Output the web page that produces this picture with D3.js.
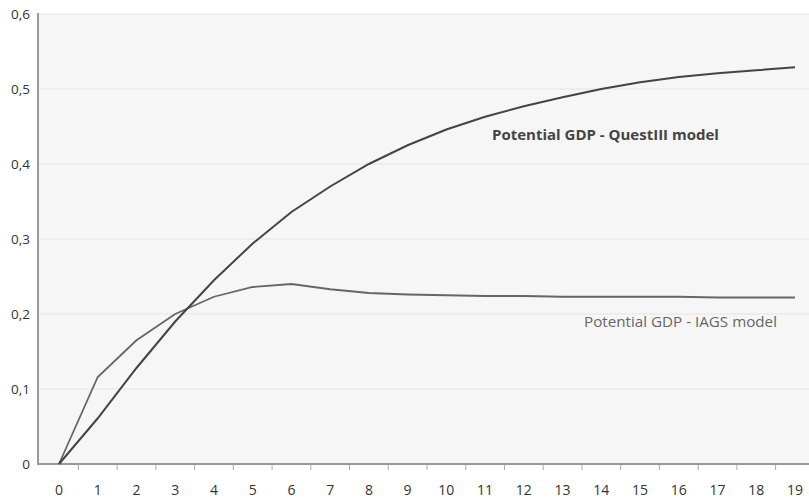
<!DOCTYPE html>
<html>
<head>
<meta charset="utf-8">
<script src="https://cdn.jsdelivr.net/npm/d3@7"></script>
<style>
  body { margin: 0; background: #fff; }
  text { font-family: "Open Sans", "Noto Sans", sans-serif; }
</style>
</head>
<body>
<svg id="chart" width="809" height="498"></svg>
<script>
// periods on the x axis
const periods = d3.range(0, 20);
// potential GDP, QuestIII model
const questValues = [0, 0.061, 0.128, 0.19, 0.245, 0.294, 0.336, 0.37, 0.4, 0.425,
                     0.446, 0.463, 0.477, 0.489, 0.5, 0.509, 0.516, 0.521, 0.525, 0.529];
// potential GDP, IAGS model
const iagsValues = [0, 0.116, 0.165, 0.2, 0.223, 0.236, 0.24, 0.233, 0.228, 0.226,
                    0.225, 0.224, 0.224, 0.223, 0.223, 0.223, 0.223, 0.222, 0.222, 0.222];
const yTicks = [0, 0.1, 0.2, 0.3, 0.4, 0.5, 0.6];

const svg = d3.select('#chart');
const plotLeft = 38, plotRight = 809, plotTop = 14, plotBottom = 464;

const x = d3.scalePoint().domain(periods).range([59, 795]);
const step = x.step();
const y = d3.scaleLinear().domain([0, 0.6]).range([plotBottom, plotTop]);

// plot background
svg.append('rect')
    .attr('x', plotLeft).attr('y', plotTop)
    .attr('width', plotRight - plotLeft).attr('height', plotBottom - plotTop)
    .attr('fill', '#f6f6f6');

// gridlines
svg.append('g')
    .selectAll('line')
    .data(yTicks.filter(d => d > 0))
    .join('line')
    .attr('x1', plotLeft).attr('x2', plotRight)
    .attr('y1', d => y(d)).attr('y2', d => y(d))
    .attr('stroke', '#e4e4e4').attr('stroke-width', 1);

// y labels
const fmt = d => d === 0 ? '0' : d3.format('.1f')(d).replace('.', ',');
svg.append('g')
    .selectAll('text')
    .data(yTicks)
    .join('text')
    .attr('x', 30).attr('y', d => y(d))
    .attr('dy', '0.35em')
    .attr('text-anchor', 'end')
    .attr('font-size', 13.5)
    .attr('fill', '#333')
    .text(fmt);

// x ticks between categories
svg.append('g')
    .selectAll('line')
    .data(periods.slice(0, 19))
    .join('line')
    .attr('x1', d => x(d) + step / 2).attr('x2', d => x(d) + step / 2)
    .attr('y1', plotBottom).attr('y2', plotBottom + 6)
    .attr('stroke', '#aaa').attr('stroke-width', 1);

// x labels
svg.append('g')
    .selectAll('text')
    .data(periods)
    .join('text')
    .attr('x', d => x(d)).attr('y', 495)
    .attr('text-anchor', 'middle')
    .attr('font-size', 14)
    .attr('fill', '#333')
    .text(d => d);

// axes lines
svg.append('line')
    .attr('x1', plotLeft).attr('x2', plotLeft)
    .attr('y1', plotTop - 1).attr('y2', plotBottom + 1)
    .attr('stroke', '#999').attr('stroke-width', 2);
svg.append('line')
    .attr('x1', plotLeft - 1).attr('x2', plotRight)
    .attr('y1', plotBottom).attr('y2', plotBottom)
    .attr('stroke', '#999').attr('stroke-width', 2);

const line = d3.line()
    .x((d, i) => x(periods[i]))
    .y(d => y(d));

svg.append('path')
    .datum(iagsValues)
    .attr('d', line)
    .attr('fill', 'none')
    .attr('stroke', '#666')
    .attr('stroke-width', 1.8);

svg.append('path')
    .datum(questValues)
    .attr('d', line)
    .attr('fill', 'none')
    .attr('stroke', '#444')
    .attr('stroke-width', 2);

// series labels
svg.append('text')
    .attr('x', 492).attr('y', 140)
    .attr('font-size', 15).attr('font-weight', 'bold')
    .attr('fill', '#444')
    .text('Potential GDP - QuestIII model');
svg.append('text')
    .attr('x', 584).attr('y', 327)
    .attr('font-size', 15.2)
    .attr('fill', '#666')
    .text('Potential GDP - IAGS model');
</script>
</body>
</html>
